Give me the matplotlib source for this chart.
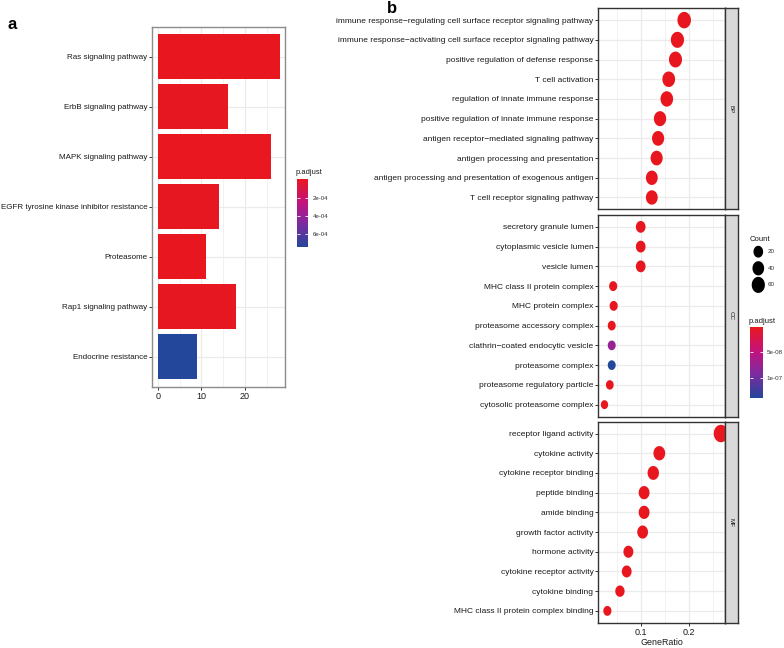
import numpy as np
import matplotlib
matplotlib.use("Agg")
import matplotlib.pyplot as plt
from matplotlib.colors import LinearSegmentedColormap, Normalize
from matplotlib.cm import ScalarMappable
from matplotlib.path import Path

plt.rcParams["font.family"] = ["Liberation Sans", "DejaVu Sans"]

W, H = 784, 648

# ---- panel a: KEGG bar chart ----
kegg_terms = [
    "Ras signaling pathway",
    "ErbB signaling pathway",
    "MAPK signaling pathway",
    "EGFR tyrosine kinase inhibitor resistance",
    "Proteasome",
    "Rap1 signaling pathway",
    "Endocrine resistance",
]
kegg_counts = [28, 16, 26, 14, 11, 18, 9]
kegg_padj = [1.0e-06, 8.0e-06, 5.0e-06, 9.0e-06, 3.0e-06, 1.0e-05, 7.4e-04]
kegg_ticks = [2e-04, 4e-04, 6e-04]
kegg_tick_labels = ["2e-04", "4e-04", "6e-04"]

# ---- panel b: GO dot plot ----
bp_terms = [
    "immune response\u2212regulating cell surface receptor signaling pathway",
    "immune response\u2212activating cell surface receptor signaling pathway",
    "positive regulation of defense response",
    "T cell activation",
    "regulation of innate immune response",
    "positive regulation of innate immune response",
    "antigen receptor\u2212mediated signaling pathway",
    "antigen processing and presentation",
    "antigen processing and presentation of exogenous antigen",
    "T cell receptor signaling pathway",
]
bp_ratio = [0.190, 0.176, 0.172, 0.158, 0.154, 0.140, 0.136, 0.133, 0.123, 0.123]
bp_count = [65, 60, 58, 54, 52, 48, 46, 45, 42, 42]
bp_padj = [1e-15] * 10

cc_terms = [
    "secretory granule lumen",
    "cytoplasmic vesicle lumen",
    "vesicle lumen",
    "MHC class II protein complex",
    "MHC protein complex",
    "proteasome accessory complex",
    "clathrin\u2212coated endocytic vesicle",
    "proteasome complex",
    "proteasome regulatory particle",
    "cytosolic proteasome complex",
]
cc_ratio = [0.100, 0.100, 0.100, 0.043, 0.044, 0.040, 0.040, 0.040, 0.036, 0.025]
cc_count = [20, 20, 20, 9, 9, 8, 8, 8, 7, 5]
cc_padj = [1e-12, 1e-12, 1e-12, 1e-10, 1e-10, 2e-10, 7.5e-08, 1.41e-07, 3e-10, 1e-10]

mf_terms = [
    "receptor ligand activity",
    "cytokine activity",
    "cytokine receptor binding",
    "peptide binding",
    "amide binding",
    "growth factor activity",
    "hormone activity",
    "cytokine receptor activity",
    "cytokine binding",
    "MHC class II protein complex binding",
]
mf_ratio = [0.266, 0.1385, 0.126, 0.107, 0.107, 0.104, 0.0745, 0.071, 0.057, 0.031]
mf_count = [78, 41, 37, 31, 31, 30, 22, 21, 17, 9]
mf_padj = [1e-20] * 10

go_ticks = [5e-08, 1e-07]
go_tick_labels = ["5e-08", "1e-07"]
size_breaks = [20, 40, 60]

cmap = LinearSegmentedColormap.from_list(
    "padj", [(0, "#E8171F"), (0.35, "#C2137F"), (0.65, "#7C2B9F"), (1, "#23479B")]
)

GRID = "#EBEBEB"
TXT = "#1A1A1A"
TICK = "#333333"


def rect(x0, y0, x1, y1):
    return [x0 / W, 1 - y1 / H, (x1 - x0) / W, (y1 - y0) / H]


def dot_px(count):
    return 6.0 + 1.3 * np.sqrt(np.asarray(count, dtype=float))


t = np.linspace(0, 2 * np.pi, 64)
ELLIPSE = Path(np.column_stack([0.82 * np.cos(t), np.sin(t)]), closed=True)

fig = plt.figure(figsize=(W / 100, H / 100), dpi=100)

# panel a
ax = fig.add_axes(rect(152.3, 26.7, 285, 386.7))
norm_a = Normalize(vmin=min(kegg_padj), vmax=max(kegg_padj))
ypos = np.arange(len(kegg_terms))
ax.barh(ypos, kegg_counts, height=0.9, color=cmap(norm_a(kegg_padj)), zorder=3)
ax.set_xlim(-1.3, 29.2)
ax.set_ylim(len(kegg_terms) - 0.4, -0.6)
ax.set_yticks(ypos)
ax.set_yticklabels(kegg_terms, fontsize=5.8)
ax.set_xticks([0, 10, 20])
ax.set_xticks([5, 15, 25], minor=True)
ax.set_xticklabels(["0", "10", "20"], fontsize=6.5)
ax.grid(True, which="major", color=GRID, linewidth=0.9, zorder=0)
ax.grid(True, which="minor", axis="x", color=GRID, linewidth=0.5, zorder=0)
ax.set_axisbelow(True)
ax.tick_params(which="major", length=2.5, width=0.7, color=TICK,
               labelcolor=TXT, pad=1)
ax.tick_params(which="minor", length=0)
for sp in ax.spines.values():
    sp.set_color("#8C8C8C")
    sp.set_linewidth(1.0)

cax_a = fig.add_axes(rect(296.7, 179.3, 308.3, 247.3))
cb_a = fig.colorbar(ScalarMappable(norm=norm_a, cmap=cmap), cax=cax_a)
cb_a.ax.invert_yaxis()
cb_a.outline.set_visible(False)
cb_a.set_ticks(kegg_ticks)
cb_a.set_ticklabels(kegg_tick_labels)
cb_a.ax.tick_params(labelsize=4.4, color="white", direction="in", length=2,
                    width=0.6, left=True, pad=3, labelcolor="#333333")
fig.text(296 / W, 1 - 174.5 / H, "p.adjust", fontsize=5.4, color=TXT, va="baseline")

# panel b
norm_b = Normalize(vmin=1e-10, vmax=1.41e-07)
facets = [
    ("BP", bp_terms, bp_ratio, bp_count, bp_padj, 8.3, 209.3),
    ("CC", cc_terms, cc_ratio, cc_count, cc_padj, 215.0, 416.5),
    ("MF", mf_terms, mf_ratio, mf_count, mf_padj, 421.7, 622.7),
]
for i, (name, terms, ratio, count, padj, top, bottom) in enumerate(facets):
    bx = fig.add_axes(rect(598.3, top, 725, bottom))
    yy = np.arange(len(terms))
    sizes = (dot_px(count) * 0.72) ** 2
    bx.scatter(ratio, yy, s=sizes, c=cmap(norm_b(padj)), marker=ELLIPSE,
               linewidths=0, zorder=3)
    bx.set_xlim(0.0122, 0.2745)
    bx.set_ylim(len(terms) - 0.4, -0.6)
    bx.set_yticks(yy)
    bx.set_yticklabels(terms, fontsize=6.0)
    bx.set_xticks([0.1, 0.2])
    bx.set_xticks([0.05, 0.15, 0.25], minor=True)
    bx.grid(True, which="major", color=GRID, linewidth=0.9, zorder=0)
    bx.grid(True, which="minor", axis="x", color=GRID, linewidth=0.5, zorder=0)
    bx.set_axisbelow(True)
    bx.tick_params(which="major", length=2.5, width=0.7, color=TICK,
                   labelcolor=TXT, pad=1)
    bx.tick_params(which="minor", length=0)
    for sp in bx.spines.values():
        sp.set_color("#333333")
        sp.set_linewidth(1.0)
    if i < 2:
        bx.tick_params(axis="x", labelbottom=False, length=0)
    else:
        bx.set_xticklabels(["0.1", "0.2"], fontsize=6.5)
        bx.set_xlabel("GeneRatio", fontsize=6.4, color=TXT, labelpad=1)

    sx = fig.add_axes(rect(725, top, 737.7, bottom))
    sx.set_facecolor("#D9D9D9")
    sx.set_xticks([])
    sx.set_yticks([])
    for sp in sx.spines.values():
        sp.set_color("#333333")
        sp.set_linewidth(1.0)
    sx.text(0.5, 0.5, name, rotation=-90, ha="center", va="center",
            fontsize=4.5, color=TXT, transform=sx.transAxes)

# count legend
leg = fig.add_axes([0, 0, 1, 1])
leg.set_xlim(0, W)
leg.set_ylim(H, 0)
leg.axis("off")
fig.text(750 / W, 1 - 241 / H, "Count", fontsize=5.6, color=TXT, va="baseline")
key_y = 251.7 + 16.6 * np.arange(len(size_breaks))
leg.scatter([758.3] * len(size_breaks), key_y, s=(dot_px(size_breaks) * 0.72) ** 2,
            c="black", marker=ELLIPSE, linewidths=0)
for yk, lab in zip(key_y, size_breaks):
    leg.text(767.5, yk, str(lab), fontsize=4.5, color="#333333", va="center")

cax_b = fig.add_axes(rect(750, 327.3, 762.7, 398.3))
cb_b = fig.colorbar(ScalarMappable(norm=norm_b, cmap=cmap), cax=cax_b)
cb_b.ax.invert_yaxis()
cb_b.outline.set_visible(False)
cb_b.set_ticks(go_ticks)
cb_b.set_ticklabels(go_tick_labels)
cb_b.ax.tick_params(labelsize=4.5, color="white", direction="in", length=2,
                    width=0.6, left=True, pad=3, labelcolor="#333333")
fig.text(749 / W, 1 - 323 / H, "p.adjust", fontsize=5.5, color=TXT, va="baseline")

fig.text(8 / W, 1 - 29 / H, "a", fontsize=12, fontweight="bold", va="baseline")
fig.text(387 / W, 1 - 13 / H, "b", fontsize=12, fontweight="bold", va="baseline")

fig.savefig("out.png", dpi=100)
